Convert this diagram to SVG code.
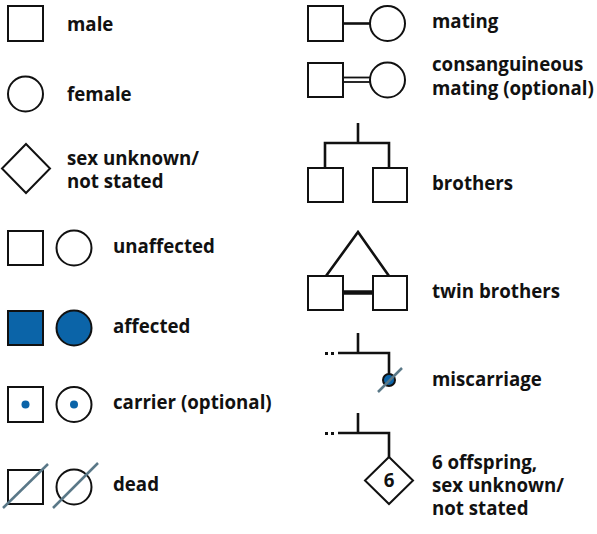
<svg xmlns="http://www.w3.org/2000/svg" width="597" height="534" viewBox="0 0 597 534">
<style>
.s{fill:#fff;stroke:#111;stroke-width:2}
.a{fill:#0b64a8;stroke:#111;stroke-width:2}
.l{fill:none;stroke:#111;stroke-width:2.6}
.w{fill:none;stroke:#111;stroke-width:4.5}
.m{fill:none;stroke:#111;stroke-width:1.8}
.d{fill:none;stroke:#5a7888;stroke-width:2.5}
.dot{fill:#0b64a8}
.t{font-family:"Open Sans","Noto Sans",sans-serif;font-weight:700;font-size:18.7px;fill:#111}
</style>
<rect width="597" height="534" fill="#fff"/>
<g id="male"><rect class="s" x="8" y="6" width="35" height="35"/><text class="t" x="67" y="31">male</text></g>
<g id="female"><circle class="s" cx="25.5" cy="94" r="17.5"/><text class="t" x="67" y="101">female</text></g>
<g id="sex-unknown"><polygon class="s" points="26,144 50,168.5 26,193 2,168.5"/><text class="t" x="67" y="165">sex unknown/</text><text class="t" x="67" y="188">not stated</text></g>
<g id="unaffected"><rect class="s" x="8" y="231" width="35" height="34"/><circle class="s" cx="74" cy="248" r="17.5"/><text class="t" x="113" y="253">unaffected</text></g>
<g id="affected"><rect class="a" x="8" y="311" width="35" height="34"/><circle class="a" cx="74" cy="328" r="17.5"/><text class="t" x="113" y="333">affected</text></g>
<g id="carrier"><rect class="s" x="8" y="387" width="35" height="35"/><circle class="dot" cx="25.5" cy="404.5" r="4"/><circle class="s" cx="74" cy="404.5" r="17.5"/><circle class="dot" cx="74" cy="404.5" r="4"/><text class="t" x="113" y="409">carrier (optional)</text></g>
<g id="dead"><rect class="s" x="8" y="470" width="35" height="34"/><line class="d" x1="3" y1="508" x2="48" y2="464"/><circle class="s" cx="74" cy="487" r="17.5"/><line class="d" x1="53" y1="508" x2="98" y2="463"/><text class="t" x="113" y="491">dead</text></g>
<g id="connectors">
<line class="l" x1="343" y1="23.5" x2="370" y2="23.5"/>
<line class="m" x1="343" y1="77.5" x2="370" y2="77.5"/><line class="m" x1="343" y1="82" x2="370" y2="82"/>
<path class="l" d="M358,123V143M325,168V143H389V168"/>
<path class="l" d="M326,276L358,232L389,276"/>
<line class="w" x1="343" y1="292.5" x2="373" y2="292.5"/>
<path class="l" d="M358,333V353M338,353H389V374"/>
<rect x="325" y="352" width="3" height="3" fill="#111"/><rect x="331" y="352" width="3" height="3" fill="#111"/>
<path class="l" d="M358,413V433M338,433H389V457"/>
<rect x="325" y="432" width="3" height="3" fill="#111"/><rect x="331" y="432" width="3" height="3" fill="#111"/>
</g>
<g id="mating"><rect class="s" x="308" y="6" width="35" height="35"/><circle class="s" cx="387.5" cy="23.5" r="17.5"/><text class="t" x="432" y="28">mating</text></g>
<g id="consanguineous"><rect class="s" x="308" y="63" width="35" height="34"/><circle class="s" cx="387.5" cy="80" r="17.5"/><text class="t" x="432" y="71">consanguineous</text><text class="t" x="432" y="95">mating (optional)</text></g>
<g id="brothers"><rect class="s" x="308" y="168" width="35" height="34"/><rect class="s" x="373" y="168" width="34" height="34"/><text class="t" x="432" y="190">brothers</text></g>
<g id="twin-brothers"><rect class="s" x="308" y="276" width="35" height="34"/><rect class="s" x="373" y="276" width="34" height="34"/><text class="t" x="432" y="298">twin brothers</text></g>
<g id="miscarriage"><circle class="a" cx="389" cy="380" r="6"/><line class="d" x1="378" y1="392" x2="402" y2="368"/><text class="t" x="432" y="386">miscarriage</text></g>
<g id="offspring"><polygon class="s" points="389,457 413,480.5 389,504 365,480.5"/><text class="t" x="389" y="487" text-anchor="middle">6</text><text class="t" x="432" y="469">6 offspring,</text><text class="t" x="432" y="492">sex unknown/</text><text class="t" x="432" y="515">not stated</text></g>
</svg>
